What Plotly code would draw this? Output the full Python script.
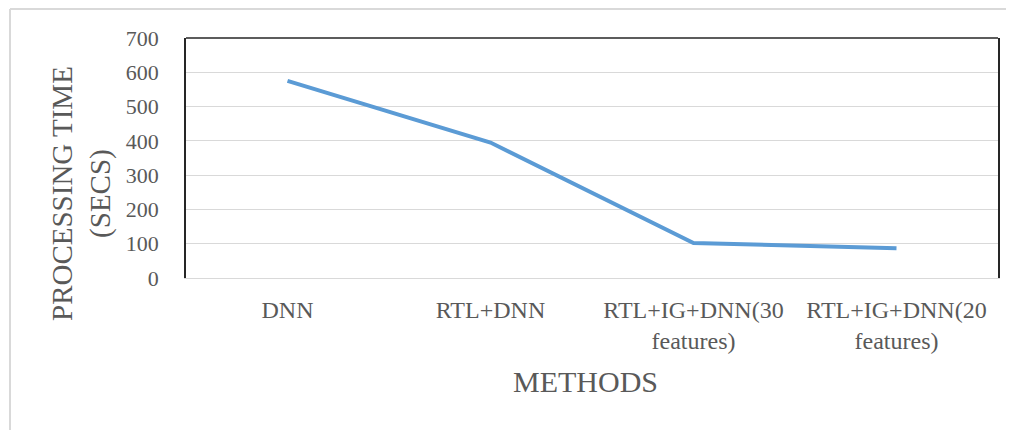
import plotly.graph_objects as go

categories = ["DNN", "RTL+DNN", "RTL+IG+DNN(30<br>features)", "RTL+IG+DNN(20<br>features)"]
processing_time = [575, 395, 102, 87]
y_ticks = [0, 100, 200, 300, 400, 500, 600, 700]

FONT = "Liberation Serif, Times New Roman, serif"
GRAY = "#595959"

# page has an 8px body margin; figure occupies 8..1014 x 8..430
OFF = 8
L, T, R, B = 186, 38, 998, 278  # plot area in window pixels
W, H = 1014 - OFF, 430 - OFF
PW, PH = R - L, B - T


def px(x):
    return (x - L) / PW


def py(y):
    return (B - y) / PH


fig = go.Figure()
fig.add_trace(go.Scatter(
    x=categories, y=processing_time, mode="lines",
    line=dict(color="#5B9BD5", width=4), showlegend=False, hoverinfo="x+y"))

fig.update_layout(
    width=W, height=H,
    margin=dict(l=L - OFF, r=W - (R - OFF), t=T - OFF, b=H - (B - OFF)),
    paper_bgcolor="white", plot_bgcolor="white",
    font=dict(family=FONT, color=GRAY, size=22),
    xaxis=dict(type="category", showgrid=False, showline=True, linecolor="#D9D9D9", linewidth=1,
               ticks="", tickfont=dict(family=FONT, size=24, color=GRAY), ticklabelstandoff=10,
               range=[-0.5, 3.5], fixedrange=True),
    yaxis=dict(range=[0, 700], tickvals=y_ticks, showgrid=True, gridcolor="#D9D9D9", gridwidth=1,
               showline=True, mirror=True, linecolor="#262626", linewidth=1.5, zeroline=False,
               ticks="", tickfont=dict(family=FONT, size=22, color=GRAY), ticklabelstandoff=21,
               fixedrange=True),
    shapes=[
        dict(type="line", xref="paper", yref="paper", x0=0, x1=1, y0=1, y1=1,
             line=dict(color="#262626", width=1.5)),
        dict(type="line", xref="paper", yref="paper", x0=px(10), x1=px(10), y0=py(9), y1=py(440),
             line=dict(color="#D9D9D9", width=2)),
        dict(type="line", xref="paper", yref="paper", x0=px(10), x1=px(1020), y0=py(9), y1=py(9),
             line=dict(color="#D9D9D9", width=2)),
    ],
    annotations=[
        dict(text="METHODS", xref="paper", yref="paper", x=px(585), y=py(381),
             showarrow=False, xanchor="center", yanchor="middle",
             font=dict(family=FONT, size=30, color=GRAY)),
        dict(text="PROCESSING TIME<br>(SECS)", xref="paper", yref="paper", x=px(81), y=py(194),
             showarrow=False, textangle=-90, xanchor="center", yanchor="middle",
             font=dict(family=FONT, size=29, color=GRAY)),
    ],
)

fig.write_html("out.html")
